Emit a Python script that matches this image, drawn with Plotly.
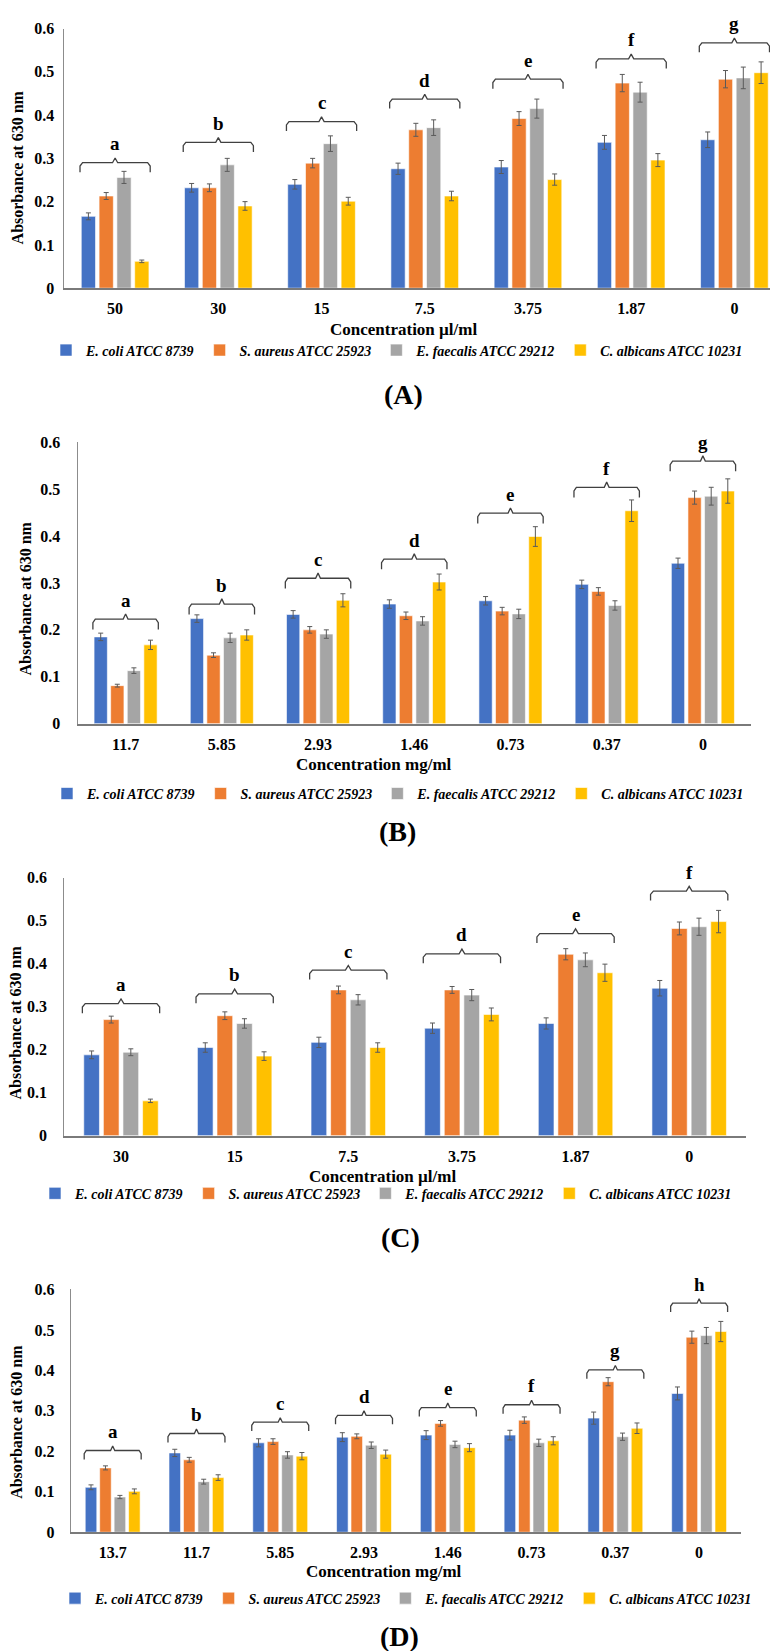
import numpy as np
import plotly.graph_objects as go
from plotly.subplots import make_subplots

W, H = 778, 1651
FONT = "Liberation Serif, Times New Roman, DejaVu Serif, serif"

strains = ["E. coli ATCC 8739", "S. aureus ATCC 25923",
           "E. faecalis ATCC 29212", "C. albicans ATCC 10231"]
colors = ["#4472C4", "#ED7D31", "#A5A5A5", "#FFC000"]

### Panel A
A_cats = ["50", "30", "15", "7.5", "3.75", "1.87", "0"]
A_ecoli = [0.166, 0.232, 0.240, 0.276, 0.280, 0.337, 0.343]
A_saureus = [0.213, 0.232, 0.289, 0.366, 0.392, 0.474, 0.483]
A_efaecalis = [0.256, 0.285, 0.334, 0.371, 0.415, 0.453, 0.486]
A_calbicans = [0.062, 0.190, 0.201, 0.213, 0.251, 0.296, 0.498]
A_ecoli_err = [0.008, 0.010, 0.011, 0.013, 0.015, 0.016, 0.018]
A_saureus_err = [0.008, 0.009, 0.011, 0.015, 0.016, 0.020, 0.020]
A_efaecalis_err = [0.014, 0.015, 0.018, 0.018, 0.022, 0.023, 0.025]
A_calbicans_err = [0.003, 0.010, 0.009, 0.011, 0.013, 0.015, 0.025]
A_brace = [0.290, 0.337, 0.385, 0.437, 0.483, 0.530, 0.567]
A_letters = ["a", "b", "c", "d", "e", "f", "g"]

### Panel B
B_cats = ["11.7", "5.85", "2.93", "1.46", "0.73", "0.37", "0"]
B_ecoli = [0.185, 0.224, 0.233, 0.255, 0.262, 0.297, 0.342]
B_saureus = [0.081, 0.146, 0.200, 0.230, 0.240, 0.282, 0.482]
B_efaecalis = [0.113, 0.183, 0.191, 0.219, 0.234, 0.252, 0.485]
B_calbicans = [0.168, 0.189, 0.263, 0.302, 0.399, 0.454, 0.496]
B_ecoli_err = [0.008, 0.008, 0.008, 0.009, 0.009, 0.009, 0.011]
B_saureus_err = [0.003, 0.005, 0.007, 0.008, 0.008, 0.008, 0.014]
B_efaecalis_err = [0.006, 0.010, 0.009, 0.009, 0.010, 0.010, 0.019]
B_calbicans_err = [0.010, 0.011, 0.014, 0.017, 0.021, 0.023, 0.026]
B_brace = [0.223, 0.255, 0.310, 0.351, 0.449, 0.504, 0.560]
B_letters = ["a", "b", "c", "d", "e", "f", "g"]

### Panel C
C_cats = ["30", "15", "7.5", "3.75", "1.87", "0"]
C_ecoli = [0.188, 0.205, 0.217, 0.250, 0.261, 0.343]
C_saureus = [0.270, 0.279, 0.339, 0.339, 0.422, 0.482]
C_efaecalis = [0.194, 0.261, 0.316, 0.327, 0.409, 0.486]
C_calbicans = [0.081, 0.185, 0.205, 0.282, 0.379, 0.498]
C_ecoli_err = [0.009, 0.011, 0.012, 0.012, 0.013, 0.018]
C_saureus_err = [0.008, 0.009, 0.009, 0.008, 0.013, 0.015]
C_efaecalis_err = [0.008, 0.011, 0.012, 0.013, 0.016, 0.020]
C_calbicans_err = [0.004, 0.010, 0.011, 0.015, 0.020, 0.026]
C_brace = [0.307, 0.330, 0.385, 0.423, 0.470, 0.569]
C_letters = ["a", "b", "c", "d", "e", "f"]

### Panel D
D_cats = ["13.7", "11.7", "5.85", "2.93", "1.46", "0.73", "0.37", "0"]
D_ecoli = [0.111, 0.196, 0.221, 0.235, 0.240, 0.240, 0.282, 0.343]
D_saureus = [0.159, 0.179, 0.224, 0.237, 0.269, 0.277, 0.372, 0.482]
D_efaecalis = [0.087, 0.125, 0.191, 0.215, 0.217, 0.221, 0.236, 0.486]
D_calbicans = [0.101, 0.135, 0.188, 0.193, 0.209, 0.226, 0.257, 0.496]
D_ecoli_err = [0.006, 0.009, 0.010, 0.011, 0.011, 0.012, 0.015, 0.016]
D_saureus_err = [0.005, 0.006, 0.007, 0.006, 0.007, 0.008, 0.010, 0.015]
D_efaecalis_err = [0.004, 0.006, 0.008, 0.008, 0.008, 0.009, 0.009, 0.020]
D_calbicans_err = [0.006, 0.007, 0.009, 0.010, 0.010, 0.010, 0.013, 0.025]
D_brace = [0.202, 0.244, 0.272, 0.289, 0.308, 0.315, 0.401, 0.566]
D_letters = ["a", "b", "c", "d", "e", "f", "g", "h"]


def px_x(x):
    return x / W


def px_y(y):
    return 1 - y / H


# panel layout in pixels: plot box (left, right, top, bottom), label / title positions
panels = [
    dict(cats=A_cats, vals=[A_ecoli, A_saureus, A_efaecalis, A_calbicans],
         errs=[A_ecoli_err, A_saureus_err, A_efaecalis_err, A_calbicans_err],
         brace=A_brace, letters=A_letters, unit="Concentration µl/ml", tag="(A)",
         box=(55.5, 778, 12.7, 275), ystand=5,
         xtitle=(395, 317), ytitle=(9, 153), legend=(389, 338), label=(395, 382)),
    dict(cats=B_cats, vals=[B_ecoli, B_saureus, B_efaecalis, B_calbicans],
         errs=[B_ecoli_err, B_saureus_err, B_efaecalis_err, B_calbicans_err],
         brace=B_brace, letters=B_letters, unit="Concentration mg/ml", tag="(B)",
         box=(69.5, 743, 430.7, 715), ystand=13,
         xtitle=(366, 756), ytitle=(17.5, 589), legend=(390, 786), label=(390, 824)),
    dict(cats=C_cats, vals=[C_ecoli, C_saureus, C_efaecalis, C_calbicans],
         errs=[C_ecoli_err, C_saureus_err, C_efaecalis_err, C_calbicans_err],
         brace=C_brace, letters=C_letters, unit="Concentration µl/ml", tag="(C)",
         box=(56.2, 738, 870.7, 1131.3), ystand=13,
         xtitle=(374, 1173), ytitle=(8, 1017), legend=(378, 1190), label=(392, 1234)),
    dict(cats=D_cats, vals=[D_ecoli, D_saureus, D_efaecalis, D_calbicans],
         errs=[D_ecoli_err, D_saureus_err, D_efaecalis_err, D_calbicans_err],
         brace=D_brace, letters=D_letters, unit="Concentration mg/ml", tag="(D)",
         box=(62.8, 733, 1286.7, 1532), ystand=12,
         xtitle=(376, 1572), ytitle=(8.5, 1421), legend=(398, 1599), label=(391, 1637)),
]

fig = make_subplots(rows=4, cols=1)

annotations = []
layout_upd = {}
for r, p in enumerate(panels, start=1):
    idx = np.arange(len(p["cats"]))
    leg = "legend" if r == 1 else f"legend{r}"

    # bars
    for name, color, vals, errs in zip(strains, colors, p["vals"], p["errs"]):
        fig.add_trace(go.Bar(
            x=idx, y=vals, name=name, legend=leg,
            marker=dict(color=color, line=dict(color="white", width=0.6)),
            error_y=dict(type="data", array=errs, color="#5a5a5a",
                         thickness=1, width=2.5),
        ), row=r, col=1)

    # significance braces
    w, drop, tip = 0.34, 0.022, 0.011
    bx, by = [], []
    for i, h in zip(idx, p["brace"]):
        bx += [i - w, i - w, i - w + 0.025, i - 0.025, i, i + 0.025,
               i + w - 0.025, i + w, i + w, None]
        by += [h - drop, h - drop * 0.35, h, h, h + tip, h,
               h, h - drop * 0.35, h - drop, None]
    fig.add_trace(go.Scatter(
        x=bx, y=by, mode="lines", line=dict(color="#404040", width=1.3),
        showlegend=False, hoverinfo="skip"), row=r, col=1)

    xref = "x" if r == 1 else f"x{r}"
    yref = "y" if r == 1 else f"y{r}"
    for i, h, letter in zip(idx, p["brace"], p["letters"]):
        annotations.append(dict(
            x=i, y=h, xref=xref, yref=yref, text=letter, showarrow=False,
            yanchor="middle", yshift=19,
            font=dict(family=FONT, size=19, color="black", weight="bold")))

    left, right, top, bottom = p["box"]
    fig.update_xaxes(
        domain=[px_x(left), px_x(right)],
        range=[-0.5, len(p["cats"]) - 0.5],
        tickvals=idx, ticktext=p["cats"], showgrid=False, zeroline=False,
        showline=True, linecolor="#7a7a7a", linewidth=1.6, ticks="",
        ticklabelstandoff=5,
        tickfont=dict(family=FONT, size=16, color="black", weight="bold"),
        row=r, col=1)
    fig.update_yaxes(
        domain=[px_y(bottom), px_y(top)], range=[0, 0.6], dtick=0.1,
        showgrid=False, zeroline=False, showline=True, linecolor="#8c8c8c",
        linewidth=1.2, ticks="", ticklabelstandoff=p["ystand"],
        tickfont=dict(family=FONT, size=16, color="black", weight="bold"),
        row=r, col=1)

    # axis titles and panel label
    annotations.append(dict(
        x=px_x(p["xtitle"][0]), y=px_y(p["xtitle"][1]), xref="paper", yref="paper",
        text=p["unit"], showarrow=False, xanchor="center", yanchor="middle",
        font=dict(family=FONT, size=17, color="black", weight="bold")))
    annotations.append(dict(
        x=px_x(p["ytitle"][0]), y=px_y(p["ytitle"][1]), xref="paper", yref="paper",
        text="Absorbance at 630 nm", textangle=-90, showarrow=False,
        xanchor="center", yanchor="middle",
        font=dict(family=FONT, size=16, color="black", weight="bold")))
    annotations.append(dict(
        x=px_x(p["label"][0]), y=px_y(p["label"][1]), xref="paper", yref="paper",
        text=p["tag"], showarrow=False, xanchor="center", yanchor="middle",
        font=dict(family=FONT, size=28, color="black", weight="bold")))

    layout_upd[leg] = dict(
        orientation="h", x=px_x(p["legend"][0]), y=px_y(p["legend"][1]),
        xanchor="center", yanchor="middle", bgcolor="rgba(0,0,0,0)",
        itemwidth=30, tracegroupgap=0,
        font=dict(family=FONT, size=14, color="black", weight="bold", style="italic"))

fig.update_layout(
    width=W, height=H,
    margin=dict(l=0, r=0, t=0, b=0),
    paper_bgcolor="white", plot_bgcolor="white",
    barmode="group", bargap=0.31, bargroupgap=0.2,
    annotations=annotations,
    **layout_upd,
)

fig.write_html("out.html")
